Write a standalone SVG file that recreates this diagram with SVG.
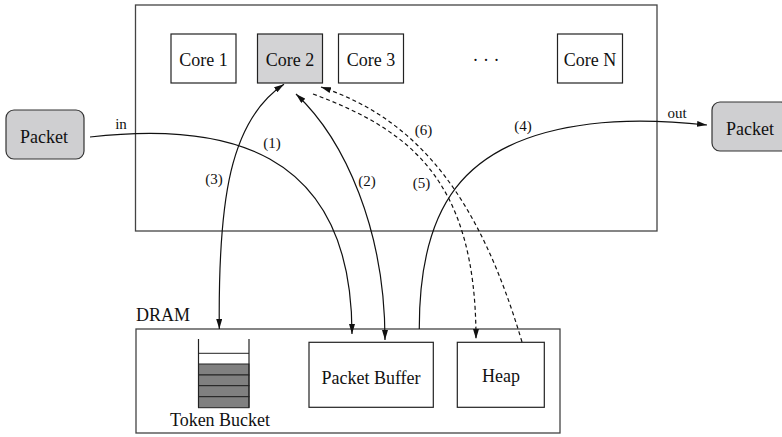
<svg xmlns="http://www.w3.org/2000/svg" width="782" height="437" viewBox="0 0 782 437">
  <style>
    .box { fill: #ffffff; stroke: #222222; stroke-width: 1.2; }
    .frame { fill: none; stroke: #444444; stroke-width: 1.3; }
    .shaded { fill: #d3d3d5; stroke: #222222; stroke-width: 1.2; }
    .pkt { fill: #cfcfd1; stroke: #333333; stroke-width: 1.2; }
    .cell { fill: #808080; stroke: #222222; stroke-width: 1; }
    .t { font-family: "Liberation Serif", "Times New Roman", serif; font-size: 18px; fill: #111111; text-anchor: middle; }
    .lbl { font-family: "Liberation Serif", "Times New Roman", serif; font-size: 15px; fill: #111111; text-anchor: middle; }
    .wire { fill: none; stroke: #111111; stroke-width: 1.2; }
    .dash { stroke-dasharray: 4 3; }
  </style>
  <defs>
    <marker id="head" viewBox="0 0 10 6" refX="10" refY="3" markerWidth="10" markerHeight="6" markerUnits="userSpaceOnUse" orient="auto-start-reverse">
      <path d="M0,0 L10,3 L0,6 Z" fill="#111111"/>
    </marker>
  </defs>

  <!-- processor frame -->
  <g id="processor">
    <rect class="frame" x="135.5" y="5" width="521.5" height="226"/>
  </g>

  <!-- cores -->
  <g id="core1">
    <rect class="box" x="171" y="34" width="65" height="49"/>
    <text class="t" x="203.5" y="66">Core 1</text>
  </g>
  <g id="core2">
    <rect class="shaded" x="257.5" y="34" width="65" height="49"/>
    <text class="t" x="290" y="66">Core 2</text>
  </g>
  <g id="core3">
    <rect class="box" x="338.5" y="34" width="65" height="49"/>
    <text class="t" x="371" y="66">Core 3</text>
  </g>
  <g id="ellipsis">
    <text class="t" x="486" y="66">· · ·</text>
  </g>
  <g id="coreN">
    <rect class="box" x="557.5" y="34" width="65" height="49"/>
    <text class="t" x="590" y="66">Core N</text>
  </g>

  <!-- incoming / outgoing packets -->
  <g id="packet-in">
    <rect class="pkt" x="6" y="110" width="78" height="49" rx="8"/>
    <text class="t" x="44" y="142.5">Packet</text>
  </g>
  <g id="packet-out">
    <rect class="pkt" x="712" y="102" width="77" height="49" rx="8"/>
    <text class="t" x="750" y="135">Packet</text>
  </g>

  <!-- memory -->
  <g id="dram">
    <rect class="frame" x="136" y="329" width="424" height="104"/>
    <text class="t" x="136" y="320.5" style="text-anchor:start">DRAM</text>
  </g>
  <g id="token-bucket">
    <rect class="cell" x="198.5" y="364" width="50.5" height="11"/>
    <rect class="cell" x="198.5" y="375" width="50.5" height="10.7"/>
    <rect class="cell" x="198.5" y="385.7" width="50.5" height="11"/>
    <rect class="cell" x="198.5" y="396.7" width="50.5" height="11"/>
    <line x1="198.5" y1="353.3" x2="249" y2="353.3" stroke="#222222" stroke-width="1"/>
    <line x1="198.5" y1="339" x2="198.5" y2="407.7" stroke="#222222" stroke-width="1.2"/>
    <line x1="249" y1="339" x2="249" y2="407.7" stroke="#222222" stroke-width="1.2"/>
    <text class="t" x="220" y="425.5">Token Bucket</text>
  </g>
  <g id="packet-buffer">
    <rect class="box" x="309" y="342.3" width="124.3" height="65"/>
    <text class="t" x="371" y="384">Packet Buffer</text>
  </g>
  <g id="heap">
    <rect class="box" x="457.3" y="342.3" width="87" height="65"/>
    <text class="t" x="501" y="381.5">Heap</text>
  </g>

  <!-- connectors -->
  <g id="connectors">
    <!-- (1) packet in to packet buffer -->
    <path class="wire" d="M90,137 C220,122 352,145 352,334" marker-end="url(#head)"/>
    <!-- (2) packet buffer <-> core 2 -->
    <path class="wire" d="M385,340 C385,230 345,140 296,94" marker-start="url(#head)" marker-end="url(#head)"/>
    <!-- (3) token bucket <-> core 2 -->
    <path class="wire" d="M219.3,329 C218,200 230,120 284,84.3" marker-start="url(#head)" marker-end="url(#head)"/>
    <!-- (4) packet buffer to packet out -->
    <path class="wire" d="M419.3,329 C419,210 460,140 590,124 C630,119 670,121 707,125" marker-end="url(#head)"/>
    <!-- (5) core 2 to heap -->
    <path class="wire dash" d="M313,94 C410,130 476,180 476,339" marker-end="url(#head)"/>
    <!-- (6) heap to core 2 -->
    <path class="wire dash" d="M522,342 C480,200 420,120 321,87" marker-end="url(#head)"/>

    <text class="lbl" x="121" y="128.5">in</text>
    <text class="lbl" x="677" y="117.5">out</text>
    <text class="lbl" x="272" y="147.5">(1)</text>
    <text class="lbl" x="367" y="186">(2)</text>
    <text class="lbl" x="214" y="184">(3)</text>
    <text class="lbl" x="523" y="131">(4)</text>
    <text class="lbl" x="421.5" y="188">(5)</text>
    <text class="lbl" x="423.5" y="135">(6)</text>
  </g>
</svg>
